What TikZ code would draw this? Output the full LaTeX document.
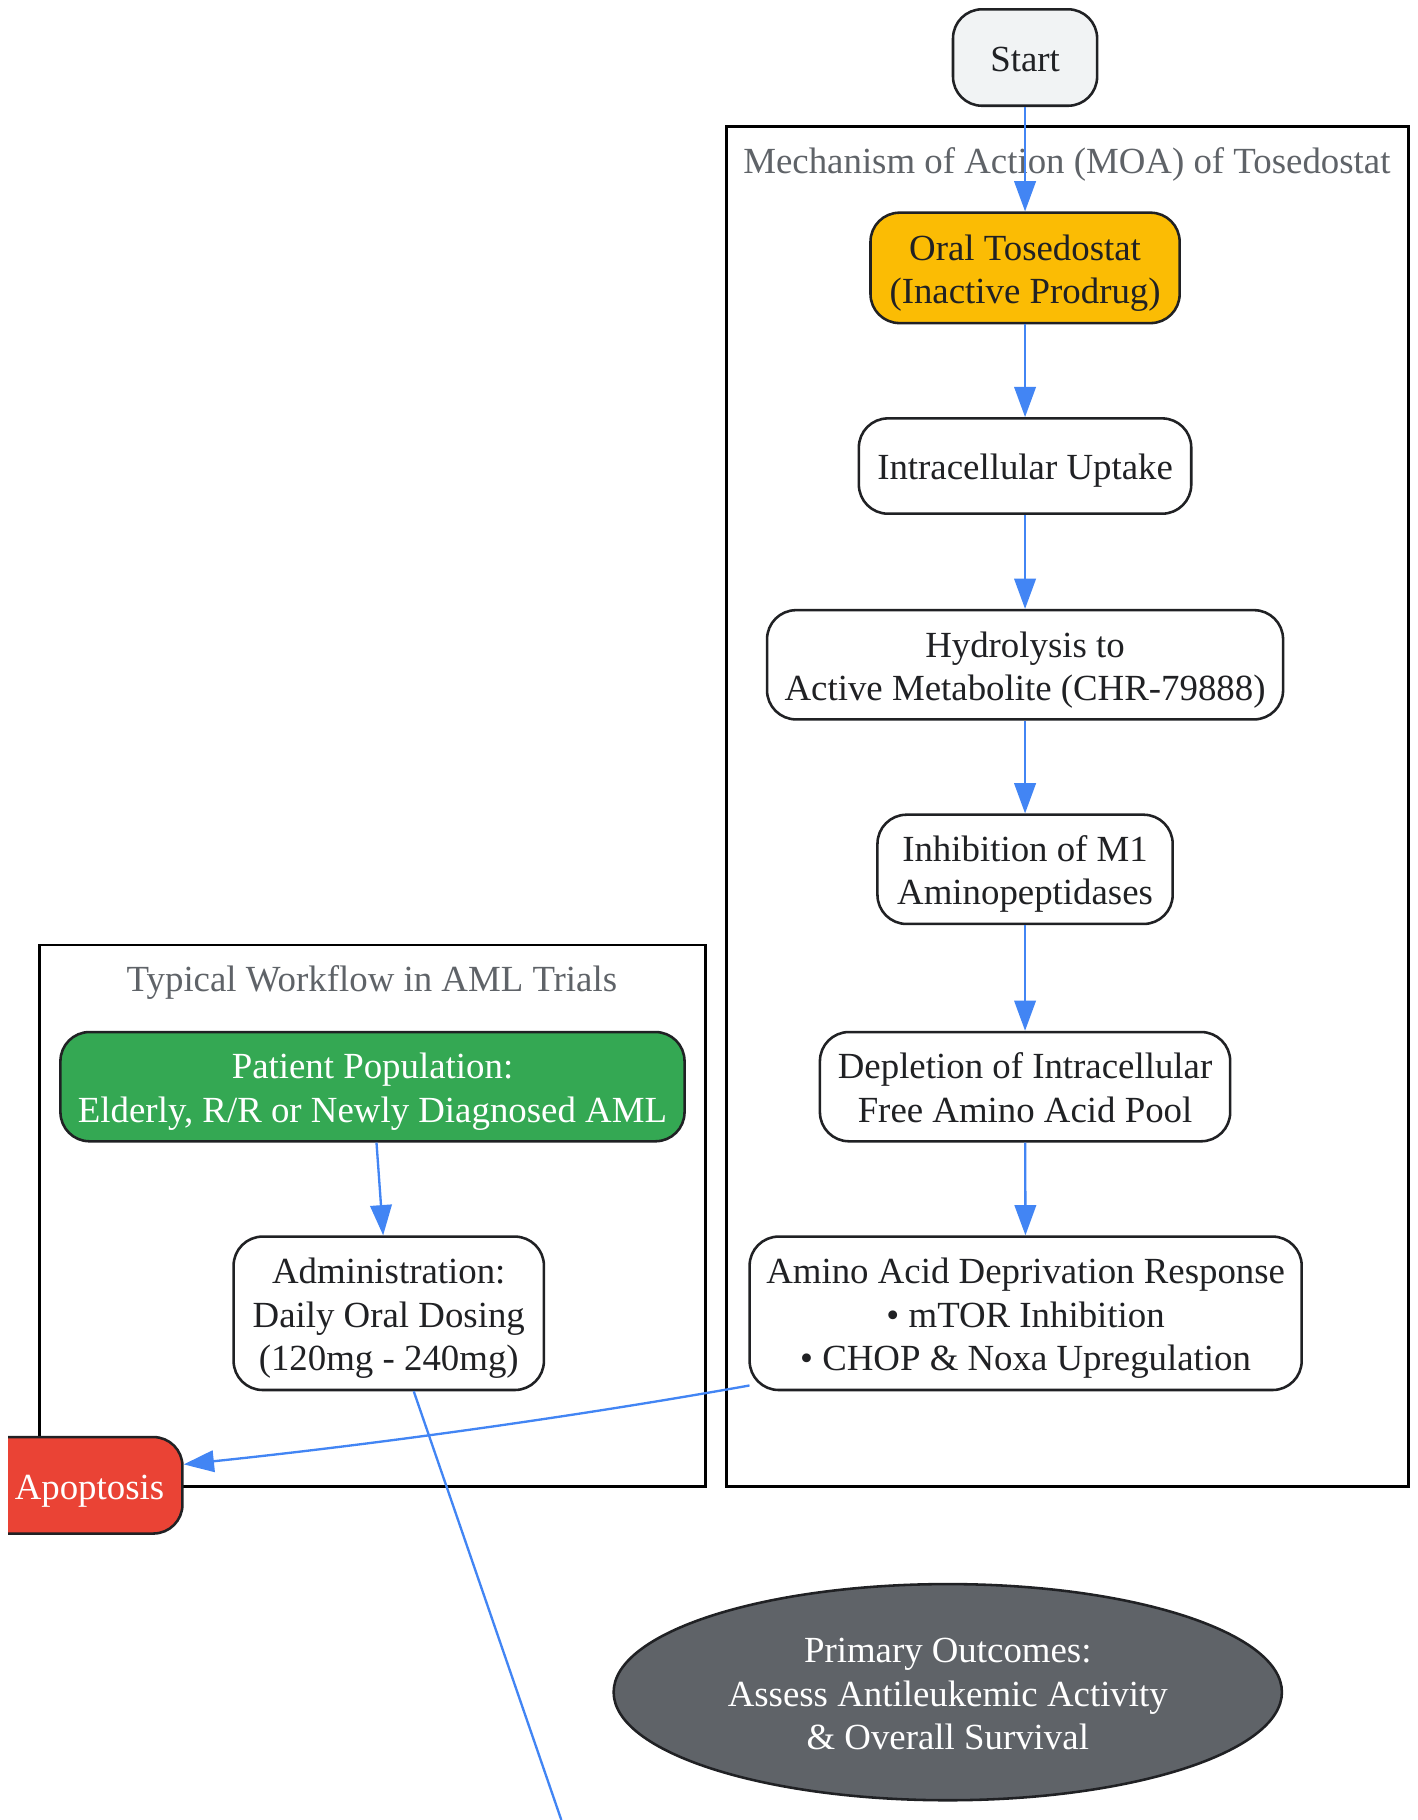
\documentclass[tikz,border=0pt]{standalone}
\usepackage{fontspec}
\setmainfont{Liberation Serif}
\usetikzlibrary{shapes.geometric,arrows.meta,calc}
\definecolor{edgeblue}{HTML}{4285F4}
\definecolor{ink}{HTML}{202124}
\definecolor{titlegrey}{HTML}{5F6368}
\definecolor{startfill}{HTML}{F1F3F4}
\definecolor{oralfill}{HTML}{FBBC04}
\definecolor{greenfill}{HTML}{34A853}
\definecolor{redfill}{HTML}{EA4335}
\definecolor{outfill}{HTML}{5F6368}
\newcommand\nsa{\rule{0pt}{32pt}}
\newcommand\nsb{\rule[-8pt]{0pt}{8pt}}
\begin{document}
\begin{tikzpicture}[x=1pt,y=-1pt,
  every node/.style={font=\fontsize{31.7}{37.3}\selectfont},
  box/.style={draw=ink, line width=2.2pt, rounded corners=25pt, align=center,
    inner sep=0pt, text=ink, fill=white},
  cluster/.style={draw=black, line width=2.2pt},
  ctitle/.style={text=titlegrey, inner sep=0pt, anchor=base},
  flow/.style={draw=edgeblue, line width=2pt, -{Triangle[length=26pt,width=18.5pt]}},
  plainflow/.style={draw=edgeblue, line width=2pt},
]
\fill[white] (0,0) rectangle (1220,1566);
\useasboundingbox (0,0) rectangle (1220,1566);

% clusters
\draw[cluster] (625,109) rectangle (1212,1279);
\node[ctitle] (moatitle) at (918,149.5) {Mechanism of Action (MOA) of Tosedostat};
\draw[cluster] (34,813) rectangle (607,1279);
\node[ctitle] (wftitle) at (320,853.5) {Typical Workflow in AML Trials};

% nodes
\node[box, fill=startfill, minimum width=124pt, minimum height=83pt] (start) at (882,49.5) {\nsa Start\nsb};
\node[box, fill=oralfill, minimum width=266pt, minimum height=95pt] (oral) at (882,230.5) {\nsa Oral Tosedostat\\(Inactive Prodrug)\nsb};
\node[box, minimum width=286pt, minimum height=82pt] (uptake) at (882,401) {\nsa Intracellular Uptake\nsb};
\node[box, minimum width=444pt, minimum height=94pt] (hydro) at (882,572) {\nsa Hydrolysis to\\Active Metabolite (CHR-79888)\nsb};
\node[box, minimum width=254pt, minimum height=94pt] (inhib) at (882,748) {\nsa Inhibition of M1\\Aminopeptidases\nsb};
\node[box, minimum width=353pt, minimum height=94pt] (deplete) at (882,935) {\nsa Depletion of Intracellular\\Free Amino Acid Pool\nsb};
\node[box, minimum width=475pt, minimum height=132pt] (amino) at (882.5,1130) {\nsa Amino Acid Deprivation Response\\{\textbullet} mTOR Inhibition\\{\textbullet} CHOP \& Noxa Upregulation\nsb};
\node[box, fill=greenfill, text=white, minimum width=537pt, minimum height=94pt] (patient) at (320.5,935) {\nsa Patient Population:\\Elderly, R/R or Newly Diagnosed AML\nsb};
\node[box, minimum width=267pt, minimum height=132pt] (admin) at (334.5,1130) {\nsa Administration:\\Daily Oral Dosing\\(120mg - 240mg)\nsb};
\node[draw=ink, line width=2.2pt, ellipse, fill=outfill, text=white, align=center, inner sep=0pt,
  minimum width=575pt, minimum height=186pt] (outcomes) at (815.5,1456) {\nsa Primary Outcomes:\\Assess Antileukemic Activity\\\& Overall Survival\nsb};
\coordinate (offpage) at (483,1566);

% edges
\draw[flow] (start) -- (oral);
\draw[flow] (oral) -- (uptake);
\draw[flow] (uptake) -- (hydro);
\draw[flow] (hydro) -- (inhib);
\draw[flow] (inhib) -- (deplete);
\draw[flow] (deplete) -- (amino);
\draw[flow] (patient) -- (admin);
\draw[plainflow] ([xshift=21.5pt]admin.south) -- (offpage);

\begin{scope}
  \clip (7,1200) rectangle (200,1340);
  \node[box, fill=redfill, text=white, minimum width=182pt, minimum height=83pt] (apop) at (66,1278) {\nsa\hspace*{22pt}Apoptosis\nsb};
\end{scope}
\draw[flow] ([shift={(1pt,5pt)}]amino.south west) .. controls (500,1218) and (330,1242) .. ([yshift=18pt]apop.east);
\end{tikzpicture}
\end{document}
